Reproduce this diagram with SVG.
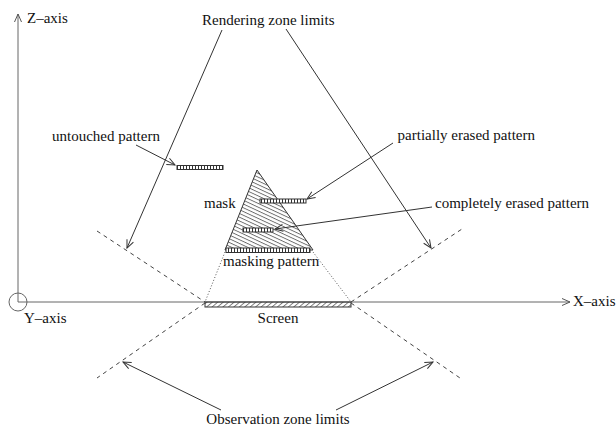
<svg xmlns="http://www.w3.org/2000/svg" width="616" height="429" viewBox="0 0 616 429">
<style>
text { font-family: "Liberation Serif", "Times New Roman", serif; font-size: 15px; fill: #111; }
.ln { stroke: #333; stroke-width: 1; fill: none; }
.ax { stroke: #666; stroke-width: 1; fill: none; }
.dash { stroke: #444; stroke-width: 1; fill: none; stroke-dasharray: 4 4; }
.dot { stroke: #555; stroke-width: 1; fill: none; stroke-dasharray: 1 2; }
.bar { fill: url(#ticks); stroke: #333; stroke-width: 1; }
</style>
<defs>
<marker id="ah" markerUnits="userSpaceOnUse" markerWidth="12" markerHeight="10" viewBox="-10 -5 12 10" refX="0" refY="0" orient="auto">
<path d="M-8,-3.5 L0,0 L-8,3.5" fill="none" stroke="#333" stroke-width="1"/>
</marker>
<marker id="ahax" markerUnits="userSpaceOnUse" markerWidth="12" markerHeight="10" viewBox="-10 -5 12 10" refX="0" refY="0" orient="auto">
<path d="M-8,-3.5 L0,0 L-8,3.5" fill="none" stroke="#555" stroke-width="1"/>
</marker>
<pattern id="ticks" patternUnits="userSpaceOnUse" width="3" height="10">
<rect width="3" height="10" fill="#fff"/>
<line x1="0.5" y1="0" x2="0.5" y2="10" stroke="#333" stroke-width="1"/>
</pattern>
<pattern id="hatchMask" patternUnits="userSpaceOnUse" width="10" height="3.4" patternTransform="rotate(25)">
<line x1="0" y1="0.5" x2="10" y2="0.5" stroke="#444" stroke-width="0.8"/>
</pattern>
<pattern id="hatchScreen" patternUnits="userSpaceOnUse" width="3.5" height="10" patternTransform="rotate(50)">
<line x1="0.5" y1="0" x2="0.5" y2="10" stroke="#555" stroke-width="0.8"/>
</pattern>
</defs>

<g id="axes">
<line class="ax" x1="18" y1="302" x2="18" y2="14" marker-end="url(#ahax)"/>
<line class="ax" x1="18" y1="302" x2="570" y2="302" marker-end="url(#ahax)"/>
<circle class="ax" cx="18" cy="302" r="9"/>
<text x="27" y="23">Z–axis</text>
<text x="573" y="306">X–axis</text>
<text x="24" y="323">Y–axis</text>
</g>

<g id="mask">
<polygon points="257,170 225,250 313,250" fill="url(#hatchMask)" stroke="#333" stroke-width="1"/>
<text x="204" y="208">mask</text>
</g>

<g id="screen">
<rect x="205" y="302" width="146" height="5" fill="url(#hatchScreen)" stroke="#333" stroke-width="1"/>
<text x="278" y="323" text-anchor="middle">Screen</text>
</g>

<g id="untouched-pattern">
<rect class="bar" x="177" y="165.5" width="46" height="4"/>
<text x="52" y="141">untouched pattern</text>
</g>

<g id="partially-erased-pattern">
<rect class="bar" x="260" y="199" width="46" height="4"/>
<text x="535" y="140" text-anchor="end">partially erased pattern</text>
</g>

<g id="completely-erased-pattern">
<rect class="bar" x="243" y="228" width="30" height="4"/>
<text x="435" y="208">completely erased pattern</text>
</g>

<g id="masking-pattern">
<rect class="bar" x="226" y="248" width="84" height="4.5"/>
<text x="223" y="266">masking pattern</text>
</g>

<g id="rendering-zone-limits">
<text x="202" y="25">Rendering zone limits</text>
</g>

<g id="observation-zone-limits">
<text x="278" y="424" text-anchor="middle">Observation zone limits</text>
</g>

<g id="connectors">
<line class="dash" x1="97" y1="231" x2="205" y2="302"/>
<line class="dash" x1="351" y1="302" x2="462" y2="229"/>
<line class="dash" x1="205" y1="303" x2="97" y2="378"/>
<line class="dash" x1="351" y1="303" x2="460" y2="378"/>
<line class="dot" x1="225" y1="252" x2="205" y2="302"/>
<line class="dot" x1="313" y1="252" x2="351" y2="302"/>
<line class="ln" x1="222" y1="30" x2="127" y2="248" marker-end="url(#ah)"/>
<line class="ln" x1="286" y1="29" x2="431" y2="248" marker-end="url(#ah)"/>
<line class="ln" x1="136" y1="145" x2="175" y2="165" marker-end="url(#ah)"/>
<line class="ln" x1="393" y1="143" x2="307" y2="199" marker-end="url(#ah)"/>
<line class="ln" x1="432" y1="207" x2="275" y2="229" marker-end="url(#ah)"/>
<line class="ln" x1="221" y1="410" x2="123" y2="362" marker-end="url(#ah)"/>
<line class="ln" x1="336" y1="410" x2="433" y2="362" marker-end="url(#ah)"/>
</g>
</svg>
